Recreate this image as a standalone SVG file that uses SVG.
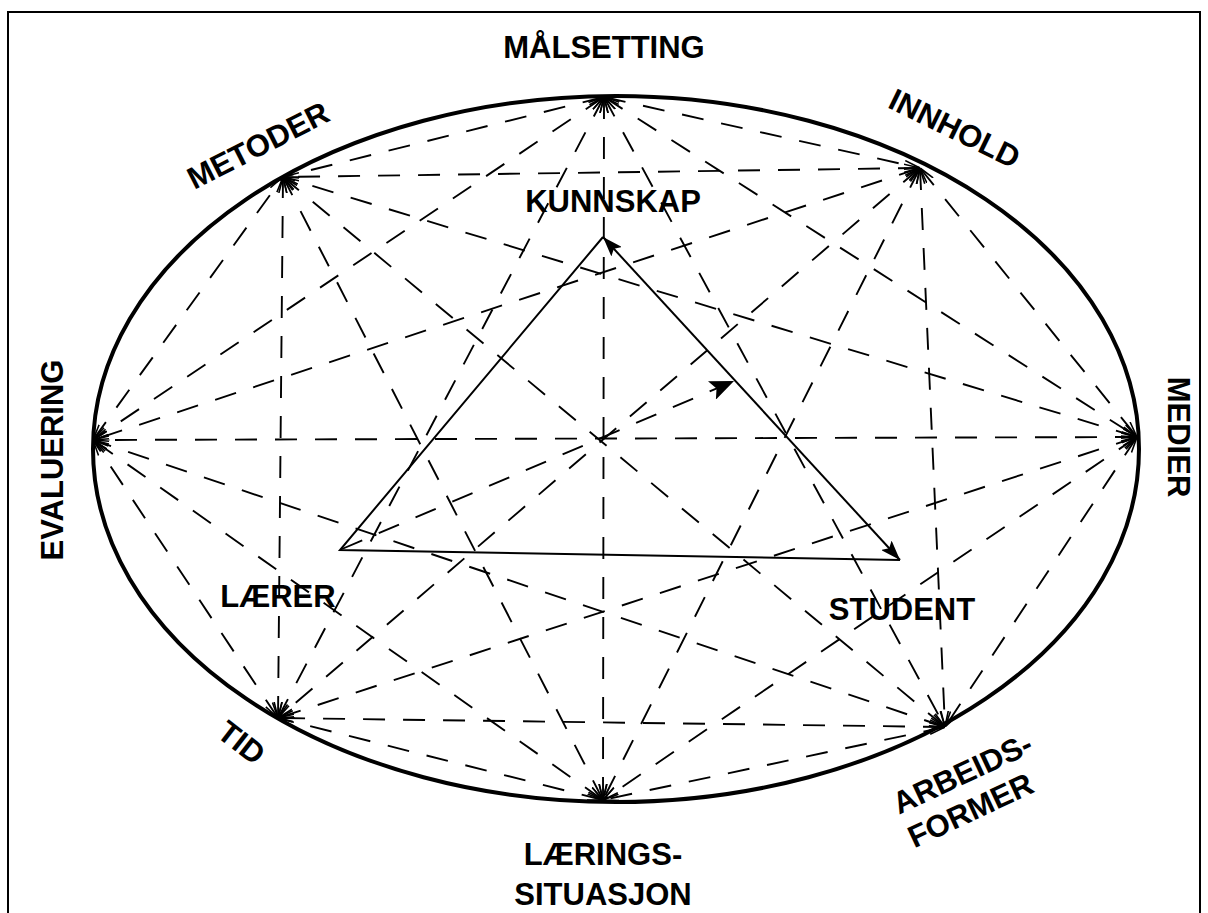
<svg xmlns="http://www.w3.org/2000/svg" width="1208" height="913" viewBox="0 0 1208 913">
<style>
.lbl{font-family:"Liberation Sans",Arial,sans-serif;font-weight:bold;font-size:31px;fill:#000;text-anchor:middle}
.dash{stroke:#000;stroke-width:1.9;fill:none;stroke-dasharray:22 18;marker-start:url(#open);marker-end:url(#open)}
.solid{stroke:#000;stroke-width:2;fill:none}
</style>
<defs>
<marker id="open" viewBox="0 0 16 10" refX="16" refY="5" markerWidth="16" markerHeight="10" markerUnits="userSpaceOnUse" orient="auto-start-reverse">
<path d="M0,1 L16,5 L0,9" fill="none" stroke="#000" stroke-width="1.6"/>
</marker>
<marker id="fill" viewBox="0 0 20 14" refX="20" refY="7" markerWidth="20" markerHeight="14" markerUnits="userSpaceOnUse" orient="auto-start-reverse">
<path d="M0,0 L20,7 L0,14 L4,7 z" fill="#000"/>
</marker>
<marker id="fillbig" viewBox="0 0 24 20" refX="24" refY="10" markerWidth="24" markerHeight="20" markerUnits="userSpaceOnUse" orient="auto">
<path d="M0,0 L24,10 L0,20 L5,10 z" fill="#000"/>
</marker>
</defs>
<rect width="1208" height="913" fill="#fff"/>
<path d="M8,913 L8,12 L1200,12 L1200,913" fill="none" stroke="#000" stroke-width="2"/>
<ellipse id="ellipse" cx="616" cy="449" rx="523" ry="353" fill="none" stroke="#000" stroke-width="4"/>
<g id="connectors">
<line class="dash" x1="604" y1="97" x2="920" y2="168"/>
<line class="dash" x1="604" y1="97" x2="1137" y2="437"/>
<line class="dash" x1="604" y1="97" x2="945" y2="727"/>
<line class="dash" x1="604" y1="97" x2="603" y2="800"/>
<line class="dash" x1="604" y1="97" x2="278" y2="718"/>
<line class="dash" x1="604" y1="97" x2="93" y2="440"/>
<line class="dash" x1="604" y1="97" x2="283" y2="177"/>
<line class="dash" x1="920" y1="168" x2="1137" y2="437"/>
<line class="dash" x1="920" y1="168" x2="945" y2="727"/>
<line class="dash" x1="920" y1="168" x2="603" y2="800"/>
<line class="dash" x1="920" y1="168" x2="278" y2="718"/>
<line class="dash" x1="920" y1="168" x2="93" y2="440"/>
<line class="dash" x1="920" y1="168" x2="283" y2="177"/>
<line class="dash" x1="1137" y1="437" x2="945" y2="727"/>
<line class="dash" x1="1137" y1="437" x2="603" y2="800"/>
<line class="dash" x1="1137" y1="437" x2="278" y2="718"/>
<line class="dash" x1="1137" y1="437" x2="93" y2="440"/>
<line class="dash" x1="1137" y1="437" x2="283" y2="177"/>
<line class="dash" x1="945" y1="727" x2="603" y2="800"/>
<line class="dash" x1="945" y1="727" x2="278" y2="718"/>
<line class="dash" x1="945" y1="727" x2="93" y2="440"/>
<line class="dash" x1="945" y1="727" x2="283" y2="177"/>
<line class="dash" x1="603" y1="800" x2="278" y2="718"/>
<line class="dash" x1="603" y1="800" x2="93" y2="440"/>
<line class="dash" x1="603" y1="800" x2="283" y2="177"/>
<line class="dash" x1="278" y1="718" x2="93" y2="440"/>
<line class="dash" x1="278" y1="718" x2="283" y2="177"/>
<line class="dash" x1="93" y1="440" x2="283" y2="177"/>
<polyline class="solid" points="900,560 340,550 603,237"/>
<line class="solid" x1="603" y1="237" x2="900" y2="560" marker-start="url(#fill)" marker-end="url(#fill)"/>
<line x1="342" y1="549" x2="734" y2="381" stroke="#000" stroke-width="1.9" stroke-dasharray="22 18" marker-end="url(#fillbig)"/>
</g>
<g id="malsetting"><text class="lbl" x="604" y="58">MÅLSETTING</text></g>
<g id="innhold"><text class="lbl" transform="translate(950,138) rotate(26)">INNHOLD</text></g>
<g id="medier"><text class="lbl" transform="translate(1168,437) rotate(90)">MEDIER</text></g>
<g id="arbeidsformer"><text class="lbl" transform="translate(967,783) rotate(-25)">ARBEIDS-</text><text class="lbl" transform="translate(975,820) rotate(-25)">FORMER</text></g>
<g id="laeringssituasjon"><text class="lbl" x="603" y="865">LÆRINGS-</text><text class="lbl" x="603" y="905">SITUASJON</text></g>
<g id="tid"><text class="lbl" transform="translate(235,751) rotate(38)">TID</text></g>
<g id="evaluering"><text class="lbl" transform="translate(63,460) rotate(-90)">EVALUERING</text></g>
<g id="metoder"><text class="lbl" transform="translate(263,155) rotate(-27)">METODER</text></g>
<g id="kunnskap"><text class="lbl" x="613" y="212">KUNNSKAP</text></g>
<g id="laerer"><text class="lbl" x="278" y="607">LÆRER</text></g>
<g id="student"><text class="lbl" x="902" y="620">STUDENT</text></g>
</svg>
